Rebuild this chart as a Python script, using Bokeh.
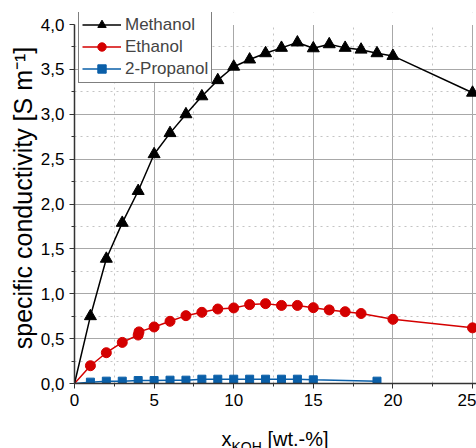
from bokeh.plotting import figure
from bokeh.layouts import column
from bokeh.models import (FixedTicker, CustomJSTickFormatter, Range1d, Label,
                          Legend, LegendItem, BoxAnnotation)
from bokeh.embed import file_html
from bokeh.resources import INLINE

# ---- data ----
meth_x = [0, 1, 2, 3, 4, 5, 6, 7, 8, 9, 10, 11, 12, 13, 14, 15, 16, 17, 18, 19, 20, 25]
meth_y = [0.0, 0.75, 1.39, 1.79, 2.145, 2.555, 2.79, 3.0, 3.2, 3.38, 3.53, 3.61,
          3.68, 3.74, 3.80, 3.735, 3.78, 3.74, 3.72, 3.68, 3.65, 3.24]

eth_x = [0, 1, 2, 3, 4, 4.05, 5, 6, 7, 8, 9, 10, 11, 12, 13, 14, 15, 16, 17, 18, 20, 25]
eth_y = [0.0, 0.198, 0.343, 0.458, 0.54, 0.575, 0.63, 0.693, 0.756, 0.793, 0.83, 0.842,
         0.879, 0.89, 0.87, 0.87, 0.845, 0.82, 0.80, 0.78, 0.715, 0.62]

prop_x = [0, 1, 2, 3, 4, 5, 6, 7, 8, 9, 10, 11, 12, 13, 14, 15, 19]
prop_y = [0.0, 0.015, 0.026, 0.026, 0.033, 0.033, 0.037, 0.037, 0.048, 0.048, 0.048,
          0.048, 0.048, 0.048, 0.048, 0.041, 0.026]

x_major = [0, 5, 10, 15, 20, 25]
x_minor = [2.5, 7.5, 12.5, 17.5, 22.5]
y_major = [0.0, 0.5, 1.0, 1.5, 2.0, 2.5, 3.0, 3.5, 4.0]
y_minor = [0.25, 0.75, 1.25, 1.75, 2.25, 2.75, 3.25, 3.75]
y_top = 4.0

FONT = "Liberation Sans"
BLACK = "#000000"
RED = "#d40000"
BLUE = "#0a5fa8"

# frame top is a little above y=4.0 so that the legend can overhang the axis end
p = figure(width=476, height=418, output_backend="svg", toolbar_location=None,
           x_range=Range1d(0, 25.25), y_range=Range1d(0, 4.134),
           min_border_left=74, min_border_right=0, min_border_top=12,
           min_border_bottom=35)
p.outline_line_color = None

p.xaxis.ticker = FixedTicker(ticks=x_major, minor_ticks=x_minor)
p.yaxis.ticker = FixedTicker(ticks=y_major, minor_ticks=y_minor)
p.yaxis.bounds = (0, y_top)
p.yaxis.formatter = CustomJSTickFormatter(code="return tick.toFixed(1).replace('.', ',');")
p.xaxis.formatter = CustomJSTickFormatter(code="return tick.toFixed(0);")

for ax in (p.xaxis, p.yaxis):
    ax.axis_line_color = "#333333"
    ax.axis_line_width = 1.5
    ax.major_tick_line_color = "#333333"
    ax.minor_tick_line_color = "#333333"
    ax.major_tick_in = 0
    ax.major_tick_out = 5
    ax.minor_tick_in = 0
    ax.minor_tick_out = 3
    ax.major_label_text_font = FONT
    ax.major_label_text_font_size = "17px"
    ax.major_label_text_color = "#000000"
    ax.major_label_standoff = 5

p.yaxis.axis_label = "specific conductivity [S m\u207b\u00b9]"
p.yaxis.axis_label_text_font = FONT
p.yaxis.axis_label_text_font_size = "25px"
p.yaxis.axis_label_text_font_style = "normal"
p.yaxis.axis_label_text_color = "#000000"
p.yaxis.axis_label_standoff = 1

p.xgrid.grid_line_color = "#a8a8a8"
p.ygrid.grid_line_color = "#a8a8a8"
p.xgrid.minor_grid_line_color = "#c4c4c4"
p.ygrid.minor_grid_line_color = "#c4c4c4"
p.xgrid.minor_grid_line_dash = "dotted"
p.ygrid.minor_grid_line_dash = "dotted"

# white strip above y=4.0 (hides the grid where the axis ends)
p.add_layout(BoxAnnotation(bottom=y_top - 0.004, fill_color="white", fill_alpha=1,
                           line_color=None, level="underlay"))

# series
pl = p.line(prop_x, prop_y, line_color=BLUE, line_width=1.5)
ps = p.scatter(prop_x[1:], prop_y[1:], marker="square", size=8, fill_color=BLUE, line_color=BLUE)
el = p.line(eth_x, eth_y, line_color=RED, line_width=1.5)
es = p.scatter(eth_x[1:], eth_y[1:], marker="circle", size=10, fill_color=RED, line_color=RED)
ml = p.line(meth_x, meth_y, line_color=BLACK, line_width=1.5)
ms = p.scatter(meth_x[1:], meth_y[1:], marker="triangle", size=12, fill_color=BLACK, line_color=BLACK)

legend = Legend(items=[LegendItem(label="Methanol", renderers=[ml, ms]),
                       LegendItem(label="Ethanol", renderers=[el, es]),
                       LegendItem(label="2-Propanol", renderers=[pl, ps])],
                location=(4, 300))
legend.label_text_font = FONT
legend.label_text_font_size = "17px"
legend.label_height = 21
legend.glyph_height = 21
legend.glyph_width = 39
legend.label_standoff = 4
legend.padding = 3
legend.spacing = 1
legend.margin = 0
legend.border_line_color = "#000000"
legend.border_line_width = 1
legend.background_fill_alpha = 1
p.add_layout(legend, "center")

# strip below the plot holding the x-axis title (with subscript)
t = figure(width=476, height=30, output_backend="svg", toolbar_location=None,
           x_range=Range1d(0, 476), y_range=Range1d(0, 30),
           min_border=0)
t.axis.visible = False
t.grid.visible = False
t.outline_line_color = None
t.add_layout(Label(x=147, y=10, x_units="screen", y_units="screen", text="x",
                   text_align="left", text_baseline="alphabetic",
                   text_font=FONT, text_font_size="20px", text_color="#000000"))
t.add_layout(Label(x=157, y=2, x_units="screen", y_units="screen", text="KOH",
                   text_align="left", text_baseline="alphabetic",
                   text_font=FONT, text_font_size="14px", text_color="#000000"))
t.add_layout(Label(x=193, y=10, x_units="screen", y_units="screen", text="[wt.-%]",
                   text_align="left", text_baseline="alphabetic",
                   text_font=FONT, text_font_size="20px", text_color="#000000"))

layout = column(p, t, spacing=0)
open("out.html", "w").write(file_html(layout, INLINE))
